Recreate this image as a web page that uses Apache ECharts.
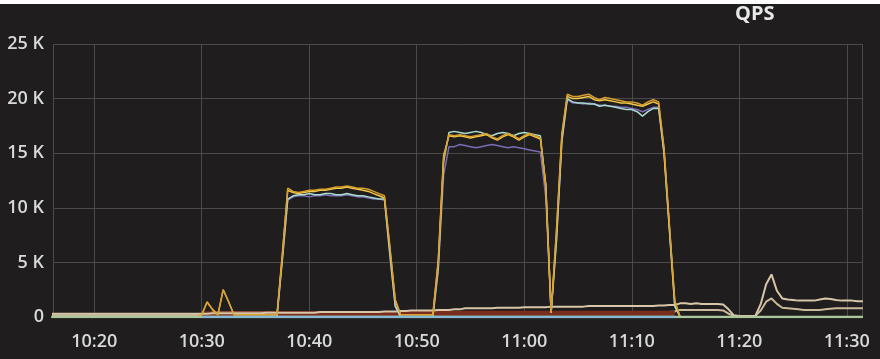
<!DOCTYPE html>
<html>
<head>
<meta charset="utf-8">
<script src="https://cdn.jsdelivr.net/npm/echarts@6/dist/echarts.min.js"></script>
<style>
html,body{margin:0;padding:0;background:#ffffff;width:880px;height:359px;overflow:hidden;}
#chart{position:absolute;left:0;top:4px;width:880px;height:355px;}
</style>
</head>
<body>
<div id="chart"></div>
<script>
// Sampling: every 30 s from 10:16:00 to 11:31:30 (152 samples)
const startTime = new Date(2017, 0, 1, 10, 16, 0).getTime();
const stepMs = 30000;
const sampleCount = 152;
const times = [];
for (let i = 0; i < sampleCount; i++) times.push(startTime + i * stepMs);

const yTicks = [0, 5, 10, 15, 20, 25]; // thousands (K)

// Values in K
const seriesGold = [
0,0,0,0,0,0,0,0,0,0,
0,0,0,0,0,0,0,0,0,0,
0,0,0,0,0,0,0,0,0.2,1.4,
0.7,0.2,2.5,1.4,0.2,0.2,0.2,0.2,0.2,0.2,
0.2,0.2,0.2,5.6,11.8,11.5,11.4,11.5,11.6,11.6,
11.7,11.7,11.8,11.9,11.9,12.0,11.9,11.8,11.8,11.7,
11.5,11.3,11.1,6.5,1.6,0.2,0.2,0.2,0.2,0.2,
0.2,0.2,5.0,14.5,16.7,16.6,16.7,16.6,16.5,16.6,
16.7,16.8,16.5,16.3,16.6,16.8,16.6,16.3,16.6,16.8,
16.6,16.4,12.0,0.4,8.0,16.8,20.4,20.2,20.2,20.3,
20.4,20.1,19.9,20.1,20.0,19.9,19.8,19.7,19.7,19.6,
19.4,19.7,19.9,19.7,15.5,8.5,1.5,0,0,0,
0,0,0,0,0,0,0,0,0,0,
0,0,0,0,0,0,0,0,0,0,
0,0,0,0,0,0,0,0,0,0,
0,0
];
const seriesYellow = [
0,0,0,0,0,0,0,0,0,0,
0,0,0,0,0,0,0,0,0,0,
0,0,0,0,0,0,0,0,0.2,1.35,
0.7,0.2,2.5,1.4,0.2,0.2,0.2,0.2,0.2,0.2,
0.2,0.2,0.2,5.8,11.6,11.4,11.3,11.4,11.5,11.5,
11.6,11.6,11.7,11.8,11.8,11.9,11.8,11.7,11.6,11.5,
11.3,11.1,10.9,6.3,1.5,0.2,0.2,0.2,0.2,0.2,
0.2,0.2,5.2,14.8,16.6,16.5,16.6,16.5,16.4,16.5,
16.6,16.7,16.4,16.2,16.5,16.7,16.5,16.2,16.5,16.7,
16.5,16.3,12.2,0.4,7.8,16.6,20.2,20.0,20.0,20.1,
20.2,19.9,19.8,19.9,19.8,19.7,19.6,19.6,19.5,19.4,
19.3,19.5,19.7,19.5,15.3,8.3,1.4,0,0,0,
0,0,0,0,0,0,0,0,0,0,
0,0,0,0,0,0,0,0,0,0,
0,0,0,0,0,0,0,0,0,0,
0,0
];
const seriesTeal = [
0,0,0,0,0,0,0,0,0,0,
0,0,0,0,0,0,0,0,0,0,
0,0,0,0,0,0,0,0,0,0,
0,0,0,0,0,0,0,0,0,0,
0,0,0,5.3,10.8,11.1,11.2,11.2,11.3,11.2,
11.2,11.3,11.3,11.2,11.2,11.3,11.2,11.1,11.1,11.0,
10.9,10.8,10.8,5.8,1.0,0,0,0,0,0,
0,0,4.5,14.2,16.9,17.0,16.9,16.8,16.9,17.0,
16.9,16.7,16.6,16.8,16.9,16.8,16.6,16.8,16.9,16.8,
16.7,16.6,12.0,0.4,7.0,16.2,20.0,19.7,19.6,19.6,
19.5,19.5,19.3,19.4,19.3,19.2,19.1,19.0,19.0,18.8,
18.4,18.8,19.1,19.1,15.0,8.0,1.0,0,0,0,
0,0,0,0,0,0,0,0,0,0,
0,0,0,0,0,0,0,0,0,0,
0,0,0,0,0,0,0,0,0,0,
0,0
];
const seriesPurple = [
0,0,0,0,0,0,0,0,0,0,
0,0,0,0,0,0,0,0,0,0,
0,0,0,0,0,0,0,0,0,0,
0,0,0,0,0,0,0,0,0,0,
0,0,0,5.2,10.7,11.0,11.1,11.1,11.0,11.1,
11.1,11.2,11.1,11.1,11.1,11.2,11.1,11.0,11.0,10.9,
10.8,10.8,10.7,5.6,1.0,0,0,0,0,0,
0,0,4.2,13.0,15.6,15.6,15.8,15.7,15.6,15.5,
15.6,15.7,15.8,15.7,15.6,15.5,15.6,15.5,15.4,15.3,
15.2,15.1,11.0,0.4,7.0,16.0,19.9,19.6,19.6,19.5,
19.6,19.5,19.4,19.4,19.3,19.3,19.2,19.2,19.1,19.0,
18.8,19.0,19.2,19.2,15.0,8.0,1.0,0,0,0,
0,0,0,0,0,0,0,0,0,0,
0,0,0,0,0,0,0,0,0,0,
0,0,0,0,0,0,0,0,0,0,
0,0
];
const seriesBeigeUpper = [
0.3,0.3,0.3,0.3,0.3,0.3,0.3,0.3,0.3,0.3,
0.3,0.3,0.3,0.3,0.3,0.3,0.3,0.3,0.3,0.3,
0.3,0.3,0.3,0.3,0.3,0.3,0.3,0.3,0.3,0.3,
0.35,0.35,0.35,0.35,0.35,0.35,0.35,0.35,0.35,0.35,
0.4,0.4,0.4,0.4,0.4,0.4,0.4,0.4,0.4,0.4,
0.45,0.45,0.45,0.45,0.45,0.45,0.45,0.45,0.45,0.45,
0.45,0.45,0.5,0.5,0.5,0.55,0.55,0.6,0.6,0.6,
0.6,0.6,0.65,0.65,0.65,0.7,0.7,0.8,0.8,0.8,
0.8,0.8,0.8,0.85,0.85,0.85,0.85,0.85,0.9,0.9,
0.9,0.9,0.9,0.95,0.95,0.95,0.95,0.95,0.95,0.95,
1.0,1.0,1.0,1.0,1.0,1.0,1.0,1.0,1.0,1.0,
1.0,1.0,1.0,1.05,1.05,1.1,1.1,1.25,1.25,1.2,
1.25,1.2,1.2,1.2,1.2,1.15,0.7,0.15,0.1,0.1,
0.1,0.1,1.2,3.0,3.9,2.4,1.7,1.6,1.55,1.5,
1.5,1.5,1.5,1.6,1.7,1.65,1.55,1.5,1.5,1.5,
1.45,1.45
];
const seriesBeigeLower = [
0.15,0.15,0.15,0.15,0.15,0.15,0.15,0.15,0.15,0.15,
0.15,0.15,0.15,0.15,0.15,0.15,0.15,0.15,0.15,0.15,
0.15,0.15,0.15,0.15,0.15,0.15,0.15,0.15,0.15,0.15,
0.45,0.45,0.45,0.45,0.45,0.45,0.45,0.45,0.45,0.45,
0.45,0.45,0.45,0.45,0.45,0.45,0.45,0.45,0.45,0.45,
0.45,0.45,0.45,0.45,0.45,0.45,0.45,0.45,0.45,0.45,
0.45,0.45,0.45,0.45,0.45,0.45,0.45,0.45,0.45,0.45,
0.45,0.45,0.45,0.45,0.45,0.45,0.45,0.45,0.45,0.45,
0.45,0.45,0.45,0.45,0.45,0.45,0.45,0.45,0.45,0.45,
0.45,0.45,0.45,0.45,0.45,0.45,0.45,0.45,0.45,0.45,
0.45,0.45,0.45,0.45,0.45,0.45,0.45,0.45,0.45,0.45,
0.45,0.45,0.45,0.45,0.45,0.45,0.5,0.65,0.65,0.65,
0.65,0.65,0.65,0.65,0.65,0.6,0.3,0.1,0.1,0.1,
0.1,0.1,0.6,1.4,1.7,1.2,0.85,0.8,0.75,0.7,
0.65,0.65,0.65,0.65,0.7,0.75,0.8,0.8,0.8,0.8,
0.8,0.8
];
const seriesRed = [
null,null,null,null,null,null,null,null,null,null,
null,null,null,null,null,null,null,null,null,null,
null,null,null,null,null,null,null,null,0.3,0.3,
0.3,0.3,0.3,0.3,0.3,0.3,0.3,0.3,0.3,0.3,
0.3,0.3,0.33,0.33,0.33,0.33,0.33,0.33,0.33,0.33,
0.33,0.33,0.33,0.33,0.33,0.33,0.33,0.33,0.33,0.33,
0.33,0.33,0.33,0.33,0.33,0.33,0.33,0.33,0.33,0.33,
0.33,0.33,0.33,0.33,0.35,0.35,0.35,0.35,0.35,0.35,
0.35,0.35,0.35,0.35,0.35,0.35,0.35,0.35,0.35,0.35,
0.35,0.35,0.35,0.35,0.35,0.35,0.35,0.35,0.35,0.35,
0.35,0.35,0.35,0.35,0.35,0.35,0.35,0.35,0.35,0.35,
0.35,0.35,0.35,0.35,0.35,0.35,0.35,null,null,null,
null,null,null,null,null,null,null,null,null,null,
null,null,null,null,null,null,null,null,null,null,
null,null,null,null,null,null,null,null,null,null,
null,null
];
const seriesGreen = [
0,0,0,0,0,0,0,0,0,0,
0,0,0,0,0,0,0,0,0,0,
0,0,0,0,0,0,0,0,0,0,
0,0,0,0,0,0,0,0,0,0,
0,0,0,0,0,0,0,0,0,0,
0,0,0,0,0,0,0,0,0,0,
0,0,0,0,0,0,0,0,0,0,
0,0,0,0,0,0,0,0,0,0,
0,0,0,0,0,0,0,0,0,0,
0,0,0,0,0,0,0,0,0,0,
0,0,0,0,0,0,0,0,0,0,
0,0,0,0,0,0,0,0,0,0,
0,0,0,0,0,0,0,0,0,0,
0,0,0,0,0,0,0,0,0,0,
0,0,0,0,0,0,0,0,0,0,
0,0
];
const seriesBlue = [
null,null,null,null,null,null,null,null,null,null,
null,null,null,null,null,null,null,null,null,null,
null,null,null,null,null,null,null,null,0,0,
0,0,0,0,0,0,0,0,0,0,
0,0,0,0,0,0,0,0,0,0,
0,0,0,0,0,0,0,0,0,0,
0,0,0,0,0,0,0,0,0,0,
0,0,0,0,0,0,0,0,0,0,
0,0,0,0,0,0,0,0,0,0,
0,0,0,0,0,0,0,0,0,0,
0,0,0,0,0,0,0,0,0,0,
0,0,0,0,0,0,0,null,null,null,
null,null,null,null,null,null,null,null,null,null,
null,null,null,null,null,null,null,null,null,null,
null,null,null,null,null,null,null,null,null,null,
null,null
];

function pairs(vals){ return vals.map((v,i)=>[times[i], v]); }

const chart = echarts.init(document.getElementById('chart'), null, {renderer:'canvas'});
const labelStyle = {color:'#d8d9da', fontSize:18, fontWeight:600, fontFamily:'"Open Sans", "Noto Sans", sans-serif'};
function line(name, vals, color, width, z){
  return {name, type:'line', data:pairs(vals), showSymbol:false, symbol:'none', smooth:false,
    connectNulls:false, lineStyle:{color, width}, itemStyle:{color}, z: z || 2, silent:true};
}
chart.setOption({
  animation:false,
  backgroundColor:'#1f1d1e',
  title:{text:'QPS', left:735, top:0, padding:0,
    textStyle:{color:'#e8e8e8', fontSize:20, fontWeight:700, fontFamily:'"Open Sans", "Noto Sans", sans-serif'}},
  grid:{left:53, right:18, top:40, bottom:42, containLabel:false},
  xAxis:{type:'time',
    min:new Date(2017,0,1,10,16,10).getTime(),
    max:new Date(2017,0,1,11,31,25).getTime(),
    splitNumber:7,
    axisLine:{show:false}, axisTick:{show:false},
    splitLine:{show:true, lineStyle:{color:'#4a4a4a', width:1}},
    axisLabel:Object.assign({formatter:'{HH}:{mm}', margin:16, hideOverlap:false, showMinLabel:false, showMaxLabel:false}, labelStyle)
  },
  yAxis:{type:'value', min:yTicks[0], max:yTicks[yTicks.length-1], interval:5,
    axisLine:{show:false}, axisTick:{show:false},
    splitLine:{show:true, lineStyle:{color:'#4a4a4a', width:1}},
    axisLabel:Object.assign({margin:9, formatter:v => v===0 ? '0' : v + ' K'}, labelStyle)
  },
  series:[
    line('lower', seriesBeigeLower, '#c9b99a', 2),
    line('red', seriesRed, '#7a2c1d', 5),
    line('upper', seriesBeigeUpper, '#d8c6a8', 2),
    line('purple', seriesPurple, '#7c6bb5', 1.5),
    line('teal', seriesTeal, '#a9dccf', 1.5),
    line('yellow', seriesYellow, '#f2c94a', 1.5),
    line('gold', seriesGold, '#d99f2e', 1.5),
    line('green', seriesGreen, '#a9c79a', 2.5, 3),
    line('blue', seriesBlue, '#86b8d3', 2.5, 3)
  ]
});
</script>
</body>
</html>
